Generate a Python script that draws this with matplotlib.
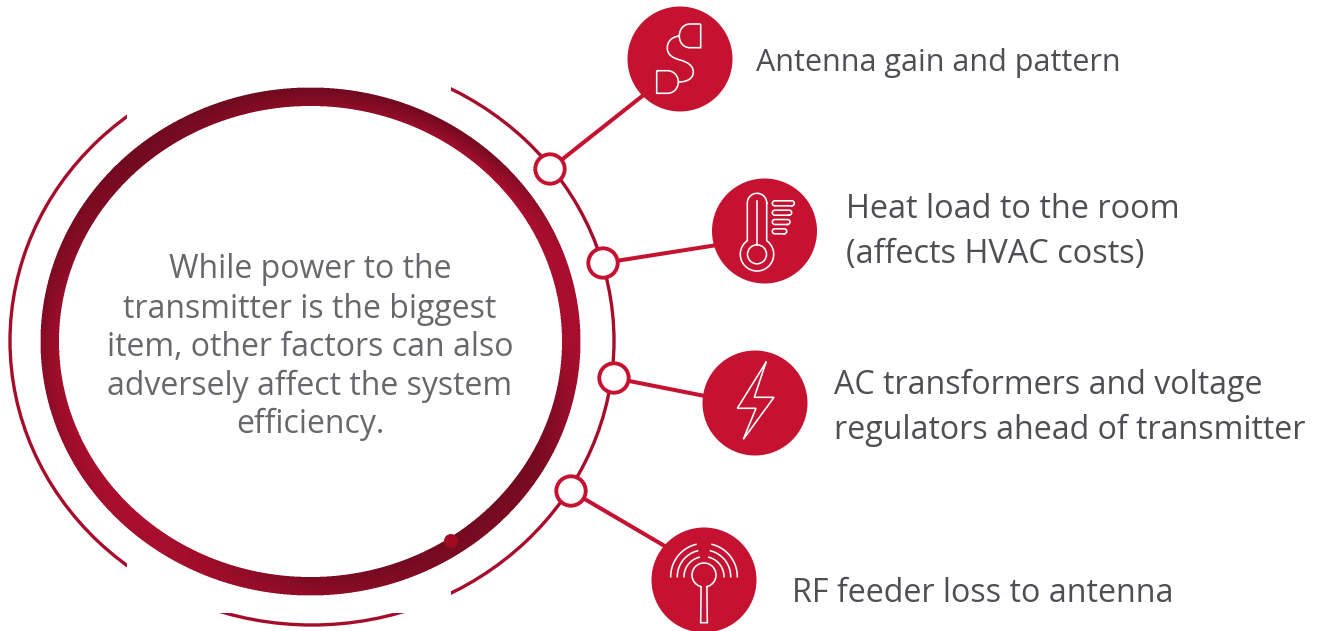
import numpy as np
import matplotlib
matplotlib.use('Agg')
import matplotlib.pyplot as plt
from matplotlib.colors import to_rgb
from matplotlib.patches import Circle, Ellipse, PathPatch, Rectangle
from matplotlib.path import Path

center_text = ['While power to the', 'transmitter is the biggest', 'item, other factors can also',
               'adversely affect the system', 'efficiency.']
center_text_y = [270, 309, 347, 386, 424]

item_labels = [['Antenna gain and pattern'],
               ['Heat load to the room', '(affects HVAC costs)'],
               ['AC transformers and voltage', 'regulators ahead of transmitter'],
               ['RF feeder loss to antenna']]
item_label_x = [756, 846, 834, 792]
item_label_y = [[63], [210, 255], [385, 430], [593]]
item_label_size = [22, 23.4, 23.15, 23.2]

node_x = [550, 603, 614, 571]
node_y = [169, 263, 378, 491]
link_x = [660, 740, 730, 680]
link_y = [82, 241.4, 401, 555]
badge_x = [680, 764.5, 755, 704]
badge_y = [59, 231, 403, 580]

RED = '#c41230'
ARC = '#a50d2b'
WHITE_LW = 1.15

plt.rcParams['font.family'] = ['Open Sans', 'DejaVu Sans']

fig = plt.figure(figsize=(13.25, 6.31), dpi=100)
ax = fig.add_axes([0, 0, 1, 1])


def white_line(xs, ys, closed=False, lw=WHITE_LW):
    xs = list(xs)
    ys = list(ys)
    if closed:
        xs.append(xs[0])
        ys.append(ys[0])
    ax.plot(xs, ys, color='white', lw=lw, zorder=6, solid_joinstyle='miter')


# thin outer arc, the white box makes the straight cuts
ax.add_patch(Ellipse((312, 341), 604, 568, fc='none', ec=ARC, lw=2.4, zorder=1))
ax.add_patch(Rectangle((127, 0), 324, 613, fc='white', ec='none', zorder=1.5))

# thick ring as a shaded picture, 3x oversampled for clean edges
cx, cy = 310.5, 341.5
rx_out, ry_out = 270, 254
rx_in, ry_in = 251.5, 235.5
ang = [-180, -140, -125, -90, -60, -30, -15, 0, 20, 45, 70, 90, 110, 135, 180]
inner = [.80, .95, .85, .25, .10, .10, .35, .85, .95, .90, .60, .50, .35, .15, .80]
outer = [.35, .85, .90, .55, .25, .25, .70, .90, .90, .15, .10, .08, .08, .08, .35]
dark = np.array(to_rgb('#6b0a1e'))
bright = np.array(to_rgb('#b00f30'))
x0, x1, y0, y1 = 30, 590, 80, 604
ss = 3
gx, gy = np.meshgrid(np.arange(x0, x1, 1 / ss) + 0.5 / ss, np.arange(y0, y1, 1 / ss) + 0.5 / ss)
deg = np.degrees(np.arctan2(-(gy - cy), gx - cx))
d_out = np.hypot((gx - cx) / rx_out, (gy - cy) / ry_out)
d_in = np.hypot((gx - cx) / rx_in, (gy - cy) / ry_in)
frac = np.clip((d_in - 1) / (rx_out / rx_in - 1), 0, 1)
shade_in = np.interp(deg, ang, inner)
shade_out = np.interp(deg, ang, outer)
shade = shade_in + (shade_out - shade_in) * frac
rgb = dark + (bright - dark) * shade[..., None]
alpha = ((d_out <= 1) & (d_in >= 1)).astype(float)
h, w = alpha.shape
a_small = alpha.reshape(h // ss, ss, w // ss, ss).mean(axis=(1, 3))
rgb_small = rgb.reshape(h // ss, ss, w // ss, ss, 3).mean(axis=(1, 3))
ax.imshow(np.dstack([rgb_small, a_small]), extent=(x0, x1, y1, y0), interpolation='nearest',
          aspect='auto', zorder=2)
ax.add_patch(Circle((451, 541), 7, color='#a00a20', lw=0, zorder=3))

# connectors, nodes and badges
for nx, ny, lx, ly in zip(node_x, node_y, link_x, link_y):
    ax.plot([nx, lx], [ny, ly], color=RED, lw=2.9, zorder=3)
for nx, ny in zip(node_x, node_y):
    ax.add_patch(Circle((nx, ny), 14.7, fc='white', ec=RED, lw=2.8, zorder=4))
for bx, by in zip(badge_x, badge_y):
    ax.add_patch(Circle((bx, by), 52.5, fc=RED, ec='none', zorder=5))

# antenna icon
M, L, C4 = Path.MOVETO, Path.LINETO, Path.CURVE4
antenna_verts = [(700.7, 24), (700.7, 47.7), (690, 47.7),
                 (683, 47.7), (679.3, 42), (679.3, 36), (679.3, 29), (684, 24), (690, 24), (700.7, 24),
                 (656.7, 70.7), (656.7, 93.3), (667.3, 93.3),
                 (674, 93.3), (678.3, 88), (678.3, 82), (678.3, 76), (674, 70.7), (667.3, 70.7), (656.7, 70.7),
                 (679.3, 36), (671, 37), (667.3, 42), (667.3, 48), (667.3, 55), (673, 58), (680, 60),
                 (688, 62), (693.3, 66), (693.3, 72), (693.3, 78), (688, 82), (678.3, 82)]
antenna_codes = [M, L, L, C4, C4, C4, C4, C4, C4, L,
                 M, L, L, C4, C4, C4, C4, C4, C4, L,
                 M, C4, C4, C4, C4, C4, C4, C4, C4, C4, C4, C4, C4]
ax.add_patch(PathPatch(Path(antenna_verts, antenna_codes), fc='none', ec='white', lw=WHITE_LW, zorder=6))

# thermometer icon
tx, tr, by_, br = 757, 9.7, 254.3, 16.7
top_t = np.linspace(0, np.pi, 40)
start = np.arcsin(tr / br)
bulb_t = np.linspace(np.pi / 2 + start, 2 * np.pi + np.pi / 2 - start, 80)
xs = np.concatenate([tx + tr * np.cos(top_t), tx + br * np.cos(bulb_t)])
ys = np.concatenate([203 - tr * np.sin(top_t), by_ - br * np.sin(bulb_t)])
white_line(xs, ys, closed=True)
ax.add_patch(Circle((tx, by_), 9.5, fc='none', ec='white', lw=WHITE_LW, zorder=6))
white_line([tx, tx], [201, 245])
bar_y = [203.3, 212.7, 222, 231.3]
bar_end = [794.3, 791.7, 790, 786.7]
for y, e in zip(bar_y, bar_end):
    t = np.linspace(-np.pi / 2, np.pi / 2, 12)
    xs = np.concatenate([e - 2.5 + 2.5 * np.cos(t), 774.8 - 2.5 * np.cos(t)])
    ys = np.concatenate([y - 2.5 * np.sin(t), y + 2.5 * np.sin(t)])
    white_line(xs, ys, closed=True)

# bolt icon
white_line([766, 737.3, 756, 743.3, 774, 754.3], [362.3, 408.3, 408.3, 439.3, 397.3, 397.3], closed=True)

# RF feeder icon
rfx, rfy, rfr = 704, 575, 12
t = np.linspace(np.radians(-90 + 14), np.radians(270 - 14), 80)
xs = np.concatenate([rfx + rfr * np.cos(t), [700.7, 707.3]])
ys = np.concatenate([rfy - rfr * np.sin(t), [622.7, 622.7]])
white_line(xs, ys, closed=True)
for r in [33.3, 26.7, 20]:
    for t0, t1 in [(0, 76), (104, 180)]:
        t = np.radians(np.linspace(t0, t1, 30))
        white_line(rfx + r * np.cos(t), 576.7 - r * np.sin(t))

# text
for s, y in zip(center_text, center_text_y):
    ax.text(310, y, s, fontsize=23, color='#66686b', ha='center', va='center', zorder=7)
for lines, x, ys, fs in zip(item_labels, item_label_x, item_label_y, item_label_size):
    for s, y in zip(lines, ys):
        ax.text(x, y, s, fontsize=fs, color='#4d4f53', ha='left', va='center', zorder=7)

ax.set_xlim(0, 1325)
ax.set_ylim(631, 0)
ax.axis('off')
fig.savefig('out.png', dpi=100)
